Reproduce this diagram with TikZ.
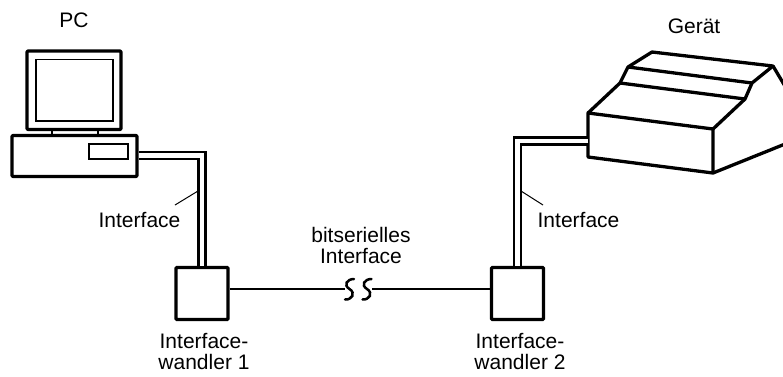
\documentclass[tikz,border=0pt]{standalone}
\usepackage{fontspec}
\setmainfont{Liberation Sans}
\begin{document}
\begin{tikzpicture}[x=1pt,y=-1pt,
  thick frame/.style={line width=3.3pt, line join=round, rounded corners=1pt},
  thin frame/.style={line width=1.4pt},
  wbox/.style={draw, line width=3.3pt, rounded corners=1pt, minimum width=52pt, minimum height=52pt, inner sep=0pt},
  cable/.style={draw, line width=2.5pt, double, double distance=4.5pt, line join=miter},
  serial/.style={line width=2.5pt},
  leader/.style={line width=1pt},
  lbl/.style={font=\fontsize{21}{21}\selectfont, inner sep=0pt, align=center},
]
\useasboundingbox (0,0) rectangle (783,376);

% --- PC: monitor, stand, base unit with drive slot
\draw[thick frame] (27,51) rectangle (121,129.5);
\draw[thin frame] (36,59.5) rectangle (113,121);
\draw[thin frame] (52,129.5) -- (52,135) (98,129.5) -- (98,135);
\node[draw, thick frame, minimum width=125pt, minimum height=41pt, inner sep=0pt] (pcbase) at (74.5,156) {};
\draw[thin frame] (89,144) rectangle (128,159);
\node[lbl, anchor=base] (pclbl) at (74,27) {PC};

% --- device (Gerät), clipped at the right edge
\begin{scope}
  \clip (0,0) rectangle (783,376);
  \draw[thick frame, rounded corners=0pt] (588,113) -- (713,129) -- (713,173) -- (588,157) -- cycle;
  \draw[thick frame, rounded corners=0pt] (588,113) -- (620,83) -- (628,67) -- (652,52) -- (773,66) -- (752,83) -- (745,99) -- (713,129);
  \draw[thick frame, rounded corners=0pt] (628,67) -- (752,83) (620,83) -- (745,99);
  \draw[thick frame, rounded corners=0pt] (773,66) -- (795,103);
  \draw[thick frame, rounded corners=0pt] (713,173) -- (800,138);
\end{scope}
\coordinate (devport) at (588,141);
\node[lbl, anchor=base] (devlbl) at (694,33) {Gerät};

% --- interface converters
\node[wbox] (w1) at (202,293.5) {};
\node[wbox] (w2) at (517.5,293.5) {};
\coordinate (pcport) at (pcbase.east |- 0,155.5);

% --- parallel interface cables
\draw[cable] (pcport) -| (w1.north);
\draw[cable] (devport) -| (w2.north);

% --- bit-serial link with break mark
\coordinate (brk) at (358,289);
\coordinate (brkL) at (345,289);
\coordinate (brkR) at (372,289);
\draw[serial] (w1.east |- brk) -- (brkL);
\draw[serial] (brkR) -- (w2.west |- brk);
\draw[serial, line cap=round]
  (354,279) .. controls (347,279) and (343,285) .. (349.5,289)
            .. controls (356,293) and (352,300) .. (345,299.5);
\draw[serial, line cap=round]
  (371.5,279) .. controls (364.5,279) and (360.5,285) .. (367,289)
              .. controls (373.5,293) and (369.5,300) .. (362.5,299.5);

% --- labels and leader lines
\coordinate (l1a) at (175,205);
\coordinate (l1b) at (198,191);
\draw[leader] (l1a) -- (l1b);
\node[lbl, anchor=base] (if1) at (139.5,227) {Interface};
\coordinate (l2a) at (521,191);
\coordinate (l2b) at (543,205);
\draw[leader] (l2a) -- (l2b);
\node[lbl, anchor=base] (if2) at (578.5,227) {Interface};
\node[lbl, anchor=base] (bs1) at (361,242) {bitserielles};
\node[lbl, anchor=base] (bs2) at (361,263) {Interface};
\node[lbl, anchor=base] (w1a) at (204,348) {Interface-};
\node[lbl, anchor=base] (w1b) at (204,369) {wandler 1};
\node[lbl, anchor=base] (w2a) at (520,348) {Interface-};
\node[lbl, anchor=base] (w2b) at (520,369) {wandler 2};
\end{tikzpicture}
\end{document}
